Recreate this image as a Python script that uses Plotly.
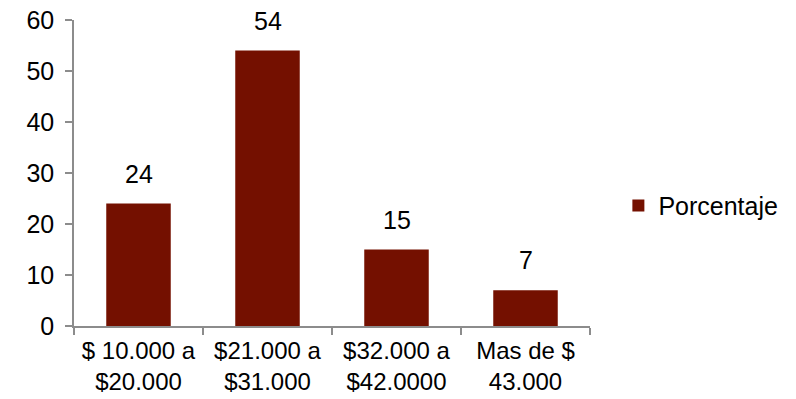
import plotly.graph_objects as go

# Distribution of income ranges (percent of respondents)
categories = [
    "$ 10.000 a<br>$20.000",
    "$21.000 a<br>$31.000",
    "$32.000 a<br>$42.0000",
    "Mas de $<br>43.000",
]
porcentaje = [24, 54, 15, 7]
y_ticks = [0, 10, 20, 30, 40, 50, 60]

bar_color = "#741000"
axis_color = "#8c8c8c"
font_family = "Liberation Sans, Arial, sans-serif"

fig = go.Figure()
fig.add_trace(go.Bar(
    x=categories,
    y=porcentaje,
    name="Porcentaje",
    marker=dict(color=bar_color, line=dict(width=0)),
    width=0.5,
))

# Value labels above each bar
for cat, val in zip(categories, porcentaje):
    fig.add_annotation(
        x=cat, y=val, text=str(val), showarrow=False,
        yanchor="bottom", yshift=14,
        font=dict(family=font_family, size=25, color="#000000"),
    )

fig.update_layout(
    width=796, height=399,
    margin=dict(l=74, r=206, t=20, b=73),
    paper_bgcolor="white", plot_bgcolor="white",
    font=dict(family=font_family, size=25, color="#000000"),
    showlegend=True,
    legend=dict(
        x=1.055, y=0.393, xanchor="left", yanchor="middle",
        font=dict(family=font_family, size=25, color="#000000"),
        bgcolor="rgba(0,0,0,0)", borderwidth=0,
        itemwidth=30,
    ),
    bargap=0.5,
)

fig.update_xaxes(
    type="category", automargin=False,
    showline=True, linecolor=axis_color, linewidth=1.5,
    ticks="outside", tickson="boundaries", ticklen=7,
    tickcolor=axis_color, tickwidth=1.5,
    ticklabelstandoff=2,
    showgrid=False, zeroline=False,
    tickfont=dict(family=font_family, size=24, color="#000000"),
)
fig.update_yaxes(
    range=[0, 60], tickvals=y_ticks, automargin=False,
    showline=True, linecolor=axis_color, linewidth=1.5,
    ticks="outside", ticklen=7, tickcolor=axis_color, tickwidth=1.5,
    ticklabelstandoff=6,
    showgrid=False, zeroline=False,
    tickfont=dict(family=font_family, size=25, color="#000000"),
)

fig.write_html("out.html")
